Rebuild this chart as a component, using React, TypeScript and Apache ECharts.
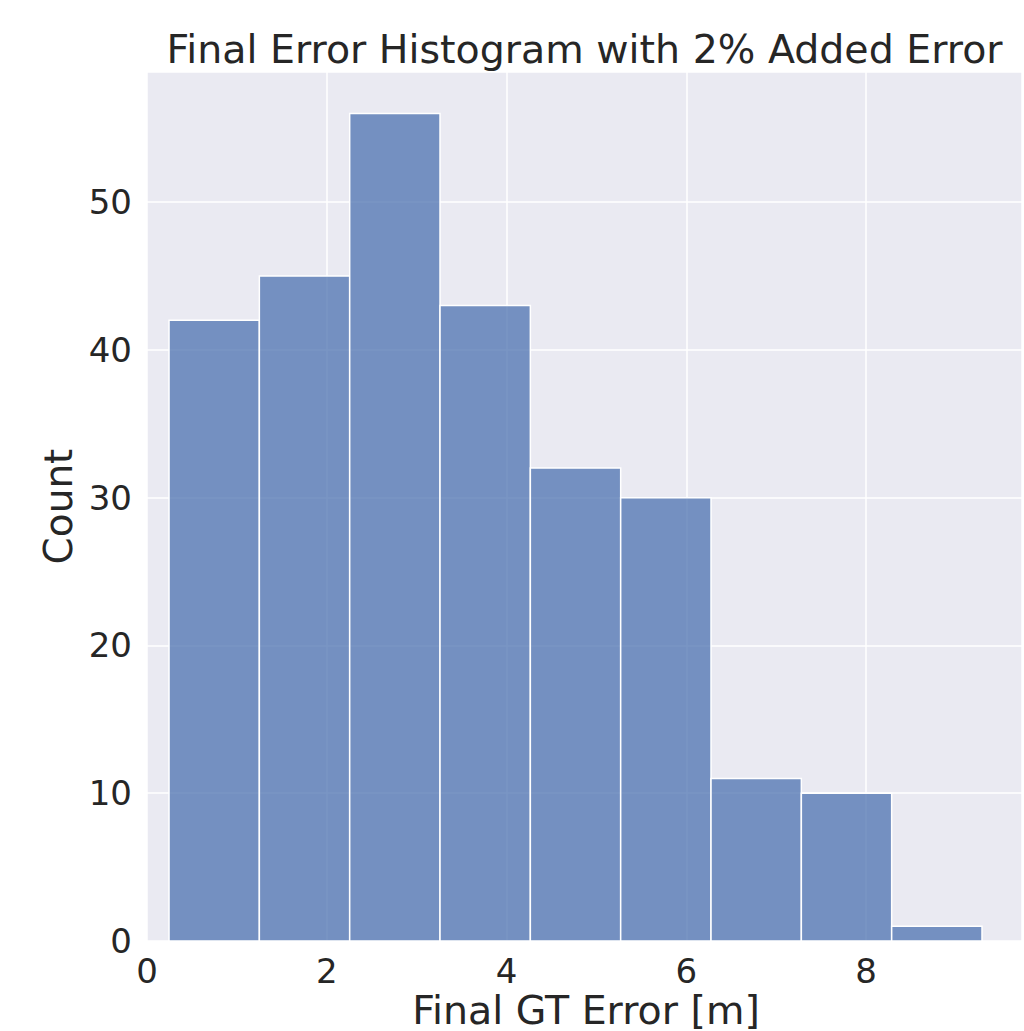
import React, { useEffect, useRef } from "react";
import * as echarts from "echarts";

const titleText = "Final Error Histogram with 2% Added Error";
const xLabel = "Final GT Error [m]";
const yLabel = "Count";
const binEdges = [0.245, 1.25, 2.255, 3.26, 4.265, 5.27, 6.275, 7.28, 8.285, 9.29];
const counts = [42, 45, 56, 43, 32, 30, 11, 10, 1];
const xRange = [0, 9.735];
const yRange = [0, 58.8];

const FONT = "DejaVu Sans";
const TEXT = "#262626";

export default function App() {
  const ref = useRef<HTMLDivElement>(null);
  useEffect(() => {
    if (!ref.current) return;
    const chart = echarts.init(ref.current, undefined, { renderer: "svg" });
    const data = counts.map((c, i) => [binEdges[i], binEdges[i + 1], c]);
    chart.setOption({
      animation: false,
      backgroundColor: "#ffffff",
      grid: {
        left: 147,
        right: 2,
        top: 72,
        bottom: 90,
        show: true,
        backgroundColor: "#EAEAF2",
        borderWidth: 0,
        containLabel: false,
        outerBoundsMode: "none",
      },
      graphic: [
        {
          type: "text",
          x: 584.5,
          y: 49,
          style: {
            text: titleText,
            font: `39.5px '${FONT}'`,
            fill: TEXT,
            textAlign: "center",
            textVerticalAlign: "middle",
          },
        },
        {
          type: "text",
          x: 586,
          y: 1009.5,
          style: {
            text: xLabel,
            font: `39.5px '${FONT}'`,
            lineHeight: 38,
            fill: TEXT,
            textAlign: "center",
            textVerticalAlign: "middle",
          },
        },
      ],
      xAxis: {
        type: "value",
        min: xRange[0],
        max: xRange[1],
        interval: 2,
        axisLine: { show: false },
        axisTick: { show: false },
        axisLabel: {
          margin: 13,
          fontFamily: FONT,
          fontSize: 34,
          lineHeight: 34,
          color: TEXT,
          showMaxLabel: false,
        },
        splitLine: { show: true, lineStyle: { color: "#ffffff", width: 1.5 } },
      },
      yAxis: {
        type: "value",
        min: yRange[0],
        max: yRange[1],
        interval: 10,
        name: yLabel,
        nameLocation: "middle",
        nameGap: 68,
        nameTextStyle: { fontFamily: FONT, fontSize: 39, color: TEXT },
        axisLine: { show: false },
        axisTick: { show: false },
        axisLabel: {
          margin: 15,
          fontFamily: FONT,
          fontSize: 34,
          color: TEXT,
          showMaxLabel: false,
        },
        splitLine: { show: true, lineStyle: { color: "#ffffff", width: 1.5 } },
      },
      series: [
        {
          type: "custom",
          data,
          encode: { x: [0, 1], y: 2 },
          renderItem: (params: any, api: any) => {
            const lo = api.value(0);
            const hi = api.value(1);
            const c = api.value(2);
            const p0 = api.coord([lo, c]);
            const p1 = api.coord([hi, 0]);
            return {
              type: "rect",
              shape: { x: p0[0], y: p0[1], width: p1[0] - p0[0], height: p1[1] - p0[1] },
              style: {
                fill: "rgba(76,114,176,0.75)",
                stroke: "#ffffff",
                lineWidth: 1.5,
              },
            };
          },
        },
      ],
    });
    return () => chart.dispose();
  }, []);
  return (
    <div
      ref={ref}
      style={{ position: "absolute", left: 0, top: 0, width: 1024, height: 1031 }}
    />
  );
}
